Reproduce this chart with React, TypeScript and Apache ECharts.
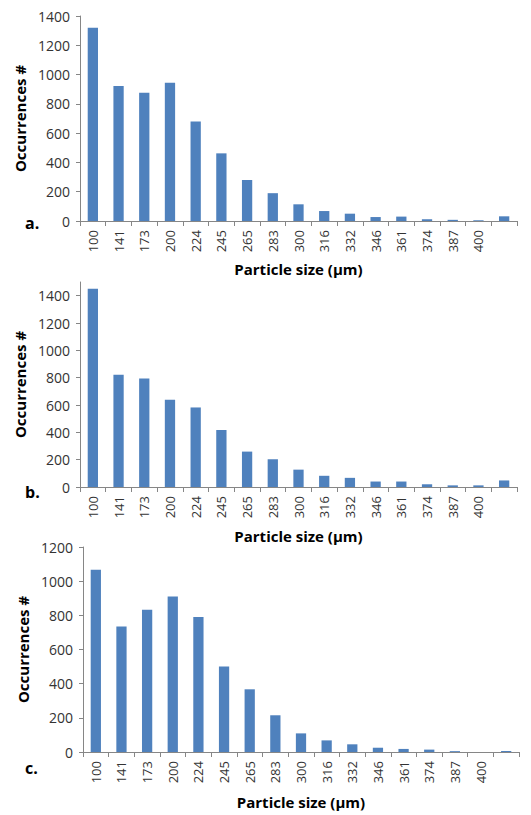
import React, { useEffect, useRef } from "react";
import * as echarts from "echarts";

const categories = ["100", "141", "173", "200", "224", "245", "265", "283", "300", "316", "332", "346", "361", "374", "387", "400", ""];
const valuesA = [1320, 922, 876, 945, 680, 462, 280, 190, 114, 68, 50, 27, 30, 12, 8, 5, 32];
const valuesB = [1450, 822, 793, 638, 582, 417, 259, 203, 127, 82, 67, 40, 40, 20, 12, 12, 48];
const valuesC = [1067, 735, 832, 910, 790, 500, 367, 215, 109, 68, 45, 25, 18, 14, 5, 0, 6];
const panelLetters = ["a.", "b.", "c."];
const yMax = [1400, 1500, 1200];
const xAxisTitle = "Particle size (µm)";
const yAxisTitle = "Occurrences #";

const FONT = "Open Sans";
const BAR = "#4F81BD";
const AXIS = "#868686";

export default function App() {
  const ref = useRef<HTMLDivElement>(null);
  useEffect(() => {
    document.body.style.margin = "0";
    const chart = echarts.init(ref.current!, null, { renderer: "svg" });
    const grids = [
      { left: 80, right: 14, top: 16, height: 205 },
      { left: 80, right: 14, top: 282, height: 205 },
      { left: 83, right: 12, top: 547, height: 205 },
    ];
    const series = [valuesA, valuesB, valuesC];
    const xNameGaps = [40, 41, 42];
    const letterY = [225, 494, 770];
    chart.setOption({
      animation: false,
      textStyle: { fontFamily: FONT },
      grid: grids.map((g) => ({ ...g, containLabel: false })),
      xAxis: grids.map((_, i) => ({
        type: "category",
        gridIndex: i,
        data: categories,
        boundaryGap: true,
        name: xAxisTitle,
        nameLocation: "middle",
        nameGap: xNameGaps[i],
        nameTextStyle: { fontFamily: FONT, fontWeight: "bold", fontSize: 15, color: "#000" },
        axisLine: { show: true, lineStyle: { color: AXIS, width: 1 } },
        axisTick: { show: true, alignWithLabel: false, interval: 0, length: 5, lineStyle: { color: AXIS } },
        axisLabel: { interval: 0, rotate: 90, margin: 9, fontFamily: FONT, fontSize: 13, color: "#333" },
        splitLine: { show: false },
      })),
      yAxis: grids.map((_, i) => ({
        type: "value",
        gridIndex: i,
        min: 0,
        max: yMax[i],
        interval: 200,
        name: yAxisTitle,
        nameLocation: "middle",
        nameGap: 51,
        nameTextStyle: { fontFamily: FONT, fontWeight: "bold", fontSize: 15, color: "#000" },
        axisLine: { show: true, lineStyle: { color: AXIS, width: 1 } },
        axisTick: { show: true, length: 4, lineStyle: { color: AXIS } },
        axisLabel: {
          margin: 10,
          fontFamily: FONT,
          fontSize: 14,
          color: "#333",
          showMaxLabel: yMax[i] % 200 === 0,
          formatter: (v: number) => String(v),
        },
        splitLine: { show: false },
      })),
      series: series.map((vals, i) => ({
        type: "bar",
        xAxisIndex: i,
        yAxisIndex: i,
        data: vals,
        barWidth: "40%",
        itemStyle: { color: BAR },
      })),
      graphic: panelLetters.map((t, i) => ({
        type: "text",
        left: 25,
        top: letterY[i] - 10,
        style: { text: t, fontFamily: FONT, fontWeight: "bold", fontSize: 16, fill: "#000" },
      })),
    });
    return () => chart.dispose();
  }, []);
  return <div ref={ref} style={{ width: 531, height: 815 }} />;
}
